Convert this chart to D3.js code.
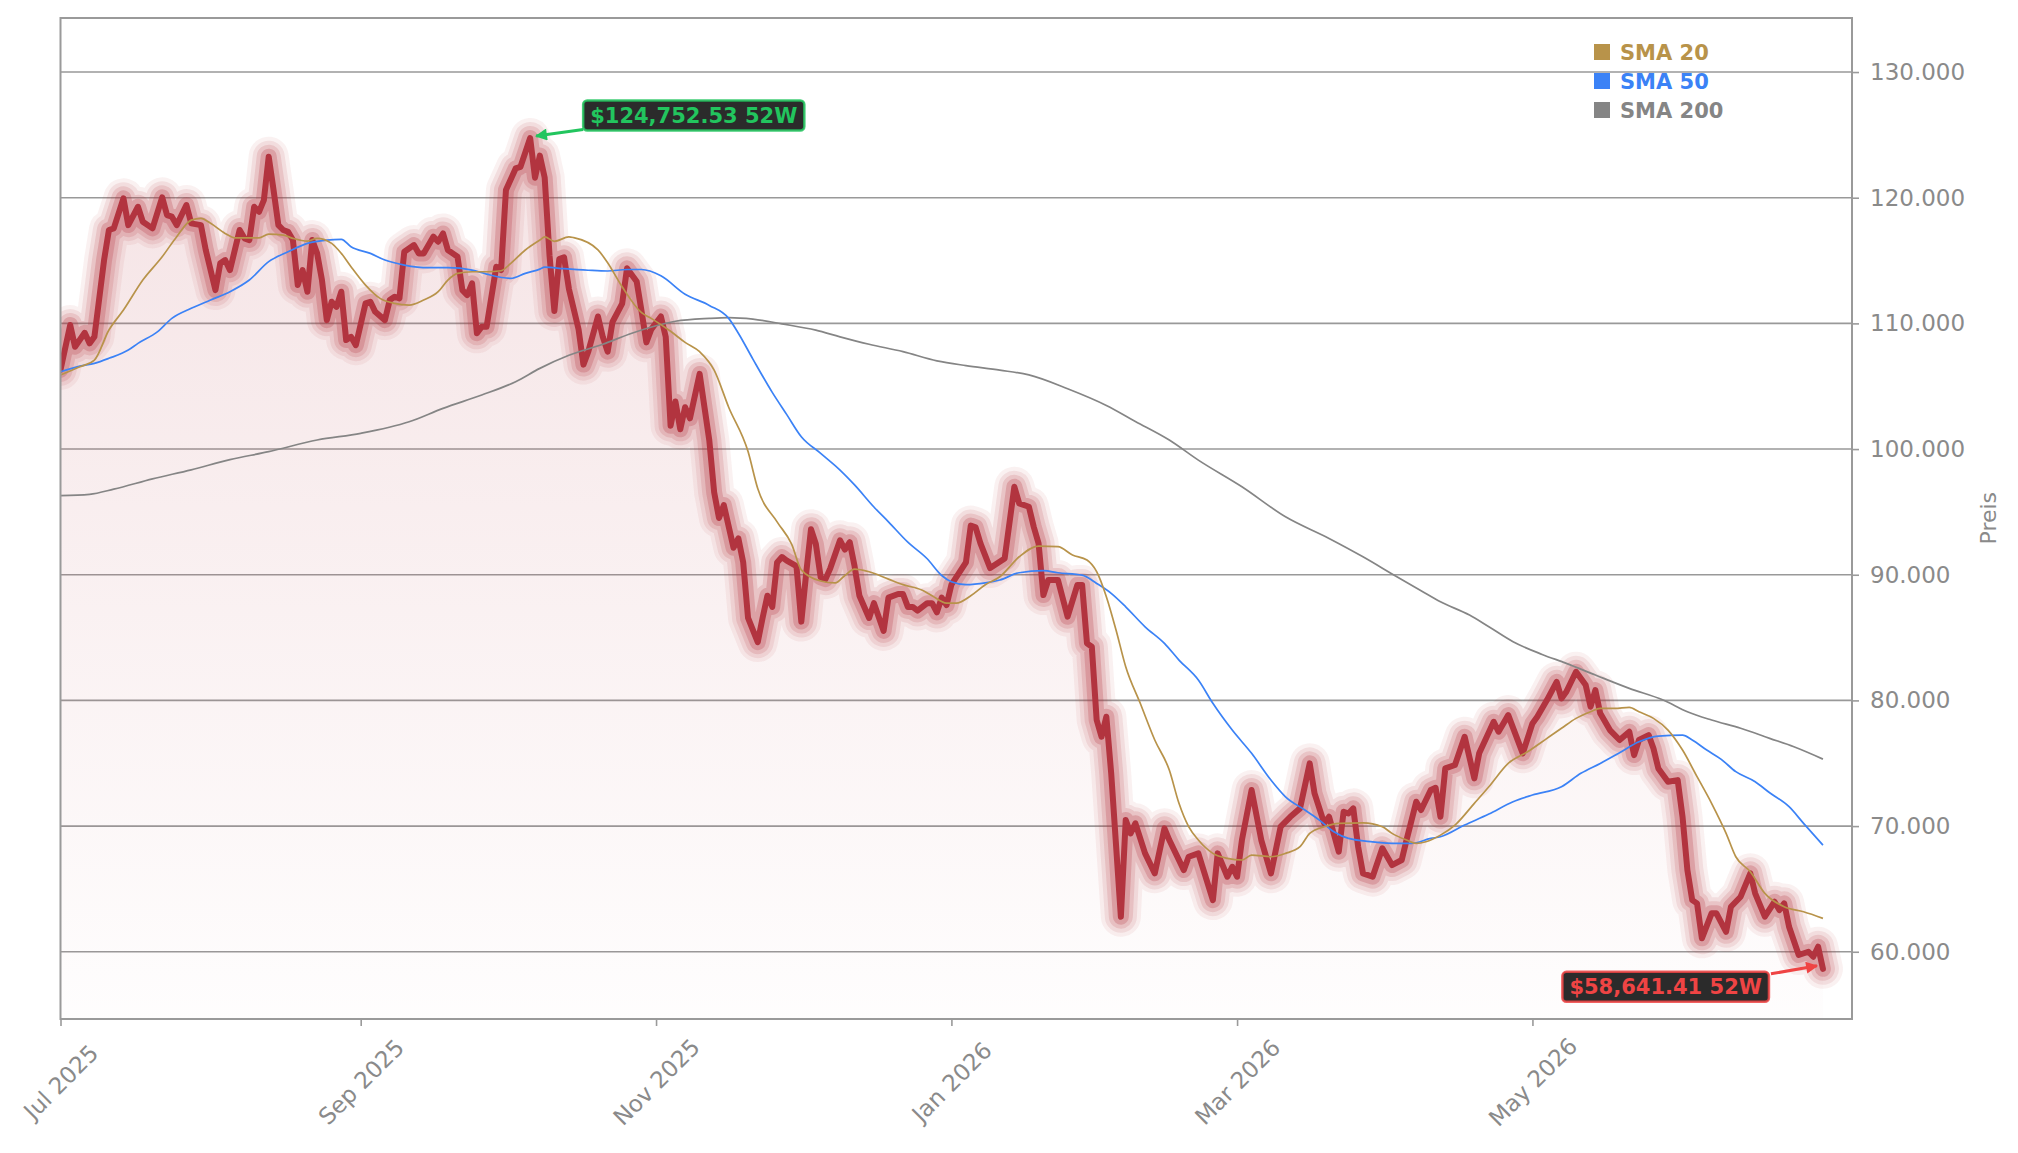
<!DOCTYPE html>
<html>
<head>
<meta charset="utf-8">
<script src="https://cdn.jsdelivr.net/npm/d3@7"></script>
<style>
  html, body { margin: 0; padding: 0; background: #fff; }
  svg { display: block; }
</style>
</head>
<body>
<div id="chart"></div>
<script>
// Data (days counted from startDate)
const startDate = "2025-07-01";
const endDate = "2026-07-06";

const priceDays = [0, 2, 3, 5, 6, 7, 9, 10, 11, 13, 14, 16, 17, 19, 21, 22, 23, 24, 26, 27, 29, 30, 32, 33, 34, 35, 37, 38, 39, 40,
    41, 42, 43, 44, 45, 46, 47, 48, 49, 50, 51, 52, 53, 54, 55, 56, 57, 58, 59, 60, 61, 63, 64, 65, 67, 68, 69, 70, 71, 73,
    74, 75, 77, 78, 79, 80, 81, 82, 83, 84, 85, 86, 87, 88, 90, 91, 92, 94, 95, 97, 98, 99, 100, 101, 102, 103, 104, 105, 107, 108,
    109, 111, 112, 113, 114, 116, 117, 119, 120, 121, 122, 124, 125, 126, 127, 128, 129, 130, 132, 133, 134, 135, 136, 137, 139, 140, 141, 142, 144, 145,
    146, 147, 148, 149, 150, 152, 153, 154, 155, 156, 157, 158, 159, 161, 162, 163, 164, 165, 167, 168, 170, 171, 173, 174, 175, 176, 177, 179, 180, 181,
    182, 183, 184, 187, 188, 189, 190, 192, 195, 197, 198, 200, 201, 202, 203, 204, 206, 208, 210, 211, 212, 213, 214, 215, 216, 217, 219, 220, 221, 222,
    224, 226, 228, 229, 232, 233, 235, 238, 239, 241, 242, 243, 244, 246, 248, 250, 252, 254, 256, 258, 259, 261, 262, 264, 265, 266, 267, 268, 269, 271,
    273, 275, 277, 278, 280, 281, 283, 284, 285, 286, 288, 290, 292, 293, 296, 297, 299, 302, 304, 305, 307, 309, 310, 311, 313, 315, 316, 317, 318, 320,
    322, 324, 325, 326, 328, 329, 330, 332, 334, 335, 336, 337, 338, 339, 341, 342, 344, 345, 347, 349, 350, 352, 354, 355, 356, 357, 359, 361, 362, 363, 364];
const priceValues = [106300, 109870, 108140, 109250, 108410, 108930, 115040, 117430, 117560, 119950, 117820, 119280, 118090, 117560, 120030, 118620, 118490, 117820, 119420, 117960, 117820, 115840, 112650, 114780, 115040, 114240, 117430, 116770, 116630, 119280,
    118880, 119810, 123260, 120610, 117820, 117430, 117290, 116630, 113060, 114240, 112520, 116630, 115570, 113450, 110260, 111720, 111320, 112520, 108670, 108930, 108270, 111590, 111720, 110920, 110260, 111860, 112120, 111990, 115700, 116230,
    115570, 115570, 116900, 116500, 117160, 115840, 115570, 115300, 112650, 112250, 113190, 109210, 109730, 109730, 114500, 114240, 120610, 122330, 122460, 124752.53, 121590, 123350, 121590, 115400, 110990, 115110, 115260, 112750, 109520, 106720,
    107750, 110550, 108930, 107750, 110110, 111580, 114380, 113340, 110990, 108490, 109520, 110550, 108930, 101860, 103780, 101570, 103330, 102450, 105980, 103330, 100680, 96560, 94510, 95540, 92150, 92890, 90980, 86560, 84640, 86560,
    88330, 87440, 90980, 91410, 91120, 90680, 86270, 90090, 93620, 92450, 89800, 89650, 90530, 92740, 92000, 92590, 90680, 88330, 86560, 87740, 85530, 88180, 88470, 88470, 87440, 87440, 87150, 87740, 87740, 87000,
    88180, 87590, 89210, 90980, 93910, 93770, 92500, 90530, 91300, 97000, 95680, 95410, 93820, 92500, 88380, 89580, 89580, 86660, 89180, 89180, 84540, 84270, 78440, 77110, 78700, 74200, 62790, 70480, 69420, 70220,
    67830, 66240, 69820, 68890, 66500, 67560, 67830, 64110, 67830, 65970, 66760, 65970, 68890, 72870, 68890, 66240, 69950, 70740, 71410, 74990, 72600, 70220, 70740, 67960, 71140, 71000, 71410, 68360, 66240, 65970,
    68230, 66900, 67300, 68890, 71940, 71280, 72870, 73050, 70740, 74590, 74860, 77110, 73800, 75790, 78300, 77510, 78830, 75790, 78170, 78700, 80030, 81480, 80160, 80690, 82280, 81220, 79500, 80820, 78970, 77640,
    76850, 77510, 75650, 76850, 77240, 76180, 74590, 73530, 73660, 70740, 66500, 64110, 63850, 61070, 63060, 63060, 61590, 63580, 64380, 66240, 64650, 62790, 63980, 63320, 63850, 61990, 59740, 60000, 59600, 60400, 58641.41];

const sma20Days = [0, 4, 7, 10, 13, 17, 21, 24, 27, 29, 31, 34, 36, 41, 43, 46, 48, 51, 53, 56, 58, 60, 63, 66, 69, 72, 75, 78, 80, 82,
    85, 88, 91, 93, 96, 99, 100, 102, 105, 106, 111, 113, 116, 120, 122, 126, 129, 132, 135, 138, 142, 144, 148, 151, 153, 157, 160, 162, 164, 167,
    171, 174, 178, 180, 183, 185, 188, 191, 194, 198, 202, 206, 209, 212, 214, 216, 218, 220, 223, 226, 229, 231, 233, 235, 238, 241, 244, 246, 250, 253,
    256, 258, 261, 264, 269, 273, 275, 278, 280, 282, 285, 288, 292, 295, 299, 303, 307, 310, 313, 316, 318, 321, 324, 326, 329, 332, 335, 338, 341, 344,
    346, 349, 352, 356, 360, 364];
const sma20Values = [105890, 106550, 107080, 109470, 111060, 113450, 115300, 116900, 118220, 118360, 117960, 117160, 116810, 116810, 117110, 117030, 116770, 116550, 116770, 116370, 115570, 114510, 113050, 111990, 111590, 111460, 111860, 112520, 113450, 113980,
    114110, 114110, 114190, 114780, 115840, 116630, 116880, 116530, 116880, 116820, 115850, 114820, 112910, 110850, 110400, 109370, 108490, 107750, 106280, 103330, 99800, 96860, 94210, 92440, 90390, 89500, 89350, 89940, 90440, 90240,
    89650, 89210, 88770, 88330, 87740, 87740, 88330, 89210, 89840, 91430, 92280, 92230, 91570, 91170, 90240, 88250, 85600, 82680, 79770, 76850, 74460, 71810, 69950, 68890, 67830, 67430, 67300, 67690, 67560, 67830,
    68360, 69420, 69950, 70220, 70260, 69950, 69420, 68890, 68620, 68750, 69280, 70080, 71810, 73130, 74990, 75910, 76980, 77780, 78570, 79100, 79370, 79370, 79450, 79100, 78570, 77640, 76050, 73930, 71810, 69420,
    67560, 66370, 64650, 63580, 63180, 62660];

const sma50Days = [0, 4, 7, 10, 14, 16, 20, 23, 27, 31, 35, 39, 43, 47, 51, 55, 58, 60, 64, 67, 71, 76, 80, 85, 88, 93, 96, 99, 100, 104,
    109, 113, 117, 120, 124, 129, 134, 138, 140, 143, 147, 150, 153, 157, 161, 164, 168, 171, 175, 179, 182, 184, 187, 191, 194, 198, 203, 206, 211, 214,
    217, 220, 224, 228, 231, 235, 238, 242, 246, 250, 253, 257, 260, 263, 266, 271, 276, 279, 283, 285, 290, 295, 300, 304, 310, 314, 318, 322, 326, 330,
    335, 337, 340, 343, 346, 350, 353, 357, 360, 364];
const sma50Values = [106150, 106600, 106820, 107220, 107880, 108410, 109330, 110400, 111200, 111860, 112520, 113450, 114910, 115700, 116370, 116630, 116690, 116100, 115570, 115040, 114640, 114430, 114430, 114240, 113920, 113580, 113980, 114320, 114470, 114350,
    114230, 114170, 114290, 114290, 113790, 112320, 111430, 110400, 109220, 107160, 104510, 102740, 100980, 99660, 98330, 97150, 95390, 94210, 92590, 91270, 89940, 89440, 89210, 89350, 89580, 90160, 90320, 90160, 89970, 89310,
    88520, 87450, 85860, 84540, 83210, 81620, 79770, 77640, 75790, 73660, 72330, 71280, 70480, 69550, 69020, 68750, 68620, 68620, 69020, 69150, 70080, 70960, 71940, 72470, 73130, 74200, 74990, 75840, 76710, 77160,
    77240, 76850, 76050, 75310, 74330, 73530, 72650, 71540, 70220, 68490];

const sma200Days = [0, 6, 11, 19, 27, 35, 43, 53, 62, 72, 79, 87, 94, 99, 105, 112, 118, 123, 127, 134, 138, 143, 149, 156, 161, 167, 174, 181, 187, 194,
    200, 208, 216, 222, 229, 235, 244, 253, 262, 269, 276, 281, 285, 291, 295, 300, 306, 311, 317, 324, 331, 336, 341, 347, 353, 358, 364];
const sma200Values = [96300, 96400, 96810, 97630, 98350, 99160, 99790, 100720, 101250, 102170, 103240, 104300, 105360, 106420, 107460, 108340, 109220, 109810, 110170, 110400, 110460, 110340, 109960, 109460, 108930, 108340, 107750, 107020, 106640, 106280,
    105900, 104800, 103470, 102200, 100720, 99120, 97000, 94610, 92890, 91430, 89840, 88730, 87850, 86790, 85860, 84670, 83660, 82950, 82020, 80960, 80030, 79100, 78440, 77780, 76980, 76310, 75330];

const yTicks = [60000, 70000, 80000, 90000, 100000, 110000, 120000, 130000];
const yDomain = [54650, 134300];
const xTickDates = ["2025-07-01", "2025-09-01", "2025-11-01", "2026-01-01", "2026-03-01", "2026-05-01"];
const legendLabels = ["SMA 20", "SMA 50", "SMA 200"];
const yLabel = "Preis";
const maxLabel = "$124,752.53 52W";
const minLabel = "$58,641.41 52W";

function createPriceChart(containerSelector) {
    const container = d3.select(containerSelector);

    const theme = {
        colors: {
            price: "#b2343f",
            sma20: "#b8934a",
            sma50: "#3b82f6",
            sma200: "#858585",
            grid: "#999999",
            axis: "#9a9a9a",
            text: "#8a8a8a",
            up: "#22c55e",
            down: "#ef4444",
            badge: "#2b2b2b"
        },
        font: "'DejaVu Sans', Verdana, sans-serif",
        fontSizes: { tick: "23px", label: "22px", legend: "21px", badge: "21px" }
    };

    const width = 2018, height = 1153;
    const margin = { top: 18, right: 166, bottom: 134, left: 60.5 };
    const plotW = width - margin.left - margin.right;
    const plotH = height - margin.top - margin.bottom;

    const parse = d3.utcParse("%Y-%m-%d");
    const start = parse(startDate);
    const toDate = d => new Date(start.getTime() + d * 864e5);

    const series = (days, values) => days.map((d, i) => ({ date: toDate(d), value: values[i] }));
    const price = series(priceDays, priceValues);
    const sma20 = series(sma20Days, sma20Values);
    const sma50 = series(sma50Days, sma50Values);
    const sma200 = series(sma200Days, sma200Values);

    const svg = container.append("svg")
        .attr("width", width)
        .attr("height", height)
        .style("font-family", theme.font);

    const g = svg.append("g")
        .attr("transform", `translate(${margin.left},${margin.top})`);

    const xScale = d3.scaleUtc()
        .domain([parse(startDate), parse(endDate)])
        .range([0, plotW]);

    const yScale = d3.scaleLinear()
        .domain(yDomain)
        .range([plotH, 0]);

    const de = d3.formatLocale({ decimal: ",", thousands: ".", grouping: [3], currency: ["", "€"] });

    // Gradient for the area under the price
    const defs = svg.append("defs");
    const grad = defs.append("linearGradient")
        .attr("id", "areaFill")
        .attr("gradientUnits", "userSpaceOnUse")
        .attr("x1", 0).attr("x2", 0)
        .attr("y1", 0).attr("y2", plotH);
    grad.append("stop").attr("offset", "0%").attr("stop-color", "#c0505a").attr("stop-opacity", 0.18);
    grad.append("stop").attr("offset", "100%").attr("stop-color", "#c0505a").attr("stop-opacity", 0.01);

    const clip = defs.append("clipPath").attr("id", "plotClip");
    clip.append("rect").attr("width", plotW).attr("height", plotH);

    [["arrowUp", theme.colors.up], ["arrowDown", theme.colors.down]].forEach(([id, color]) => {
        defs.append("marker")
            .attr("id", id)
            .attr("viewBox", "0 0 10 10")
            .attr("refX", 9).attr("refY", 5)
            .attr("markerUnits", "userSpaceOnUse")
            .attr("markerWidth", 14).attr("markerHeight", 12)
            .attr("orient", "auto")
            .append("path")
            .attr("d", "M0,0 L10,5 L0,10 z")
            .attr("fill", color);
    });

    // Grid lines
    g.append("g")
        .attr("class", "grid")
        .selectAll("line")
        .data(yTicks)
        .join("line")
        .attr("x1", 0)
        .attr("x2", plotW)
        .attr("y1", d => yScale(d))
        .attr("y2", d => yScale(d))
        .style("stroke", theme.colors.grid)
        .style("stroke-width", "1.6px");

    const plot = g.append("g").attr("clip-path", "url(#plotClip)");

    // Area under price
    const area = d3.area()
        .x(d => xScale(d.date))
        .y0(plotH)
        .y1(d => yScale(d.value));

    plot.append("path")
        .datum(price)
        .attr("d", area)
        .attr("fill", "url(#areaFill)");

    const line = d3.line()
        .x(d => xScale(d.date))
        .y(d => yScale(d.value));

    // Glow around price line (stacked translucent strokes)
    [[40, 0.07], [32, 0.1], [24, 0.15], [16, 0.24]].forEach(([w, o]) => {
        plot.append("path")
            .datum(price)
            .attr("d", line)
            .attr("fill", "none")
            .attr("stroke", theme.colors.price)
            .attr("stroke-opacity", o)
            .attr("stroke-width", w)
            .attr("stroke-linejoin", "round")
            .attr("stroke-linecap", "round");
    });

    plot.append("path")
        .datum(price)
        .attr("d", line)
        .attr("fill", "none")
        .attr("stroke", theme.colors.price)
        .attr("stroke-width", 6)
        .attr("stroke-linejoin", "round")
        .attr("stroke-linecap", "round");

    // Moving averages
    [[sma200, theme.colors.sma200], [sma50, theme.colors.sma50], [sma20, theme.colors.sma20]].forEach(([data, color]) => {
        plot.append("path")
            .datum(data)
            .attr("d", line.curve(d3.curveMonotoneX))
            .attr("fill", "none")
            .attr("stroke", color)
            .attr("stroke-width", 1.7);
        line.curve(d3.curveLinear);
    });

    // Frame
    g.append("rect")
        .attr("width", plotW)
        .attr("height", plotH)
        .attr("fill", "none")
        .style("stroke", theme.colors.axis)
        .style("stroke-width", "2px");

    // Axes
    const xAxis = g.append("g")
        .attr("transform", `translate(0,${plotH})`)
        .call(d3.axisBottom(xScale)
            .tickValues(xTickDates.map(parse))
            .tickFormat(d3.utcFormat("%b %Y"))
            .tickSize(7));
    xAxis.select(".domain").remove();
    xAxis.selectAll("line").style("stroke", theme.colors.axis).style("stroke-width", "1.6px");
    xAxis.selectAll("text")
        .attr("y", 0)
        .attr("dy", "0.35em")
        .attr("transform", "translate(0,63) rotate(-45)")
        .style("text-anchor", "middle")
        .style("font-size", theme.fontSizes.tick)
        .style("font-family", theme.font)
        .style("fill", theme.colors.text);

    const yAxis = g.append("g")
        .attr("transform", `translate(${plotW},0)`)
        .call(d3.axisRight(yScale)
            .tickValues(yTicks)
            .tickFormat(de.format(",.0f"))
            .tickSize(7)
            .tickPadding(11));
    yAxis.select(".domain").remove();
    yAxis.selectAll("line").style("stroke", theme.colors.axis).style("stroke-width", "1.6px");
    yAxis.selectAll("text")
        .style("font-size", theme.fontSizes.tick)
        .style("font-family", theme.font)
        .style("fill", theme.colors.text);

    g.append("text")
        .attr("transform", `translate(${plotW + 136},${yScale(94500)}) rotate(-90)`)
        .attr("dy", "0.35em")
        .style("text-anchor", "middle")
        .style("font-size", theme.fontSizes.label)
        .style("fill", theme.colors.text)
        .text(yLabel);

    // Legend
    const legendColors = [theme.colors.sma20, theme.colors.sma50, theme.colors.sma200];
    const legend = g.append("g")
        .attr("class", "legend")
        .attr("transform", `translate(${plotW - 258}, 34)`);

    const items = legend.selectAll("g")
        .data(legendLabels)
        .join("g")
        .attr("transform", (d, i) => `translate(0, ${i * 29})`);
    items.append("rect")
        .attr("x", 0).attr("y", -8)
        .attr("width", 16).attr("height", 16)
        .attr("fill", (d, i) => legendColors[i]);
    items.append("text")
        .attr("x", 26)
        .attr("dy", "0.36em")
        .style("font-size", theme.fontSizes.legend)
        .style("font-weight", "bold")
        .style("fill", (d, i) => legendColors[i])
        .text(d => d);

    // 52W high / low badges
    const maxPt = price[d3.maxIndex(price, d => d.value)];
    const minPt = price[d3.minIndex(price, d => d.value)];

    function addBadge(pt, label, color, marker, side) {
        const px = xScale(pt.date), py = yScale(pt.value);
        const badge = g.append("g");
        const txt = badge.append("text")
            .attr("dy", "0.36em")
            .style("font-size", theme.fontSizes.badge)
            .style("font-weight", "bold")
            .style("text-anchor", "middle")
            .style("fill", color)
            .text(label);
        const w = txt.node().getComputedTextLength() + 14, h = 30;
        const bx = side === "right" ? px + 53 : px - 54 - w;
        const cy = side === "right" ? py - 22.5 : py + 18;
        badge.insert("rect", "text")
            .attr("x", bx).attr("y", cy - h / 2)
            .attr("width", w).attr("height", h)
            .attr("rx", 4)
            .attr("fill", theme.colors.badge)
            .attr("stroke", color)
            .attr("stroke-opacity", 0.85)
            .attr("stroke-width", 2.5);
        txt.attr("x", bx + w / 2).attr("y", cy);

        const x1 = side === "right" ? bx : bx + w + 2;
        const y1 = side === "right" ? cy + 14 : cy - 13;
        const x2 = side === "right" ? px + 6 : px - 6;
        const y2 = side === "right" ? py - 2 : py - 3;
        g.append("line")
            .attr("x1", x1).attr("y1", y1)
            .attr("x2", x2).attr("y2", y2)
            .attr("stroke", color)
            .attr("stroke-width", 3)
            .attr("marker-end", `url(#${marker})`);
    }

    addBadge(maxPt, maxLabel, theme.colors.up, "arrowUp", "right");
    addBadge(minPt, minLabel, theme.colors.down, "arrowDown", "left");
}

createPriceChart("#chart");
</script>
</body>
</html>
